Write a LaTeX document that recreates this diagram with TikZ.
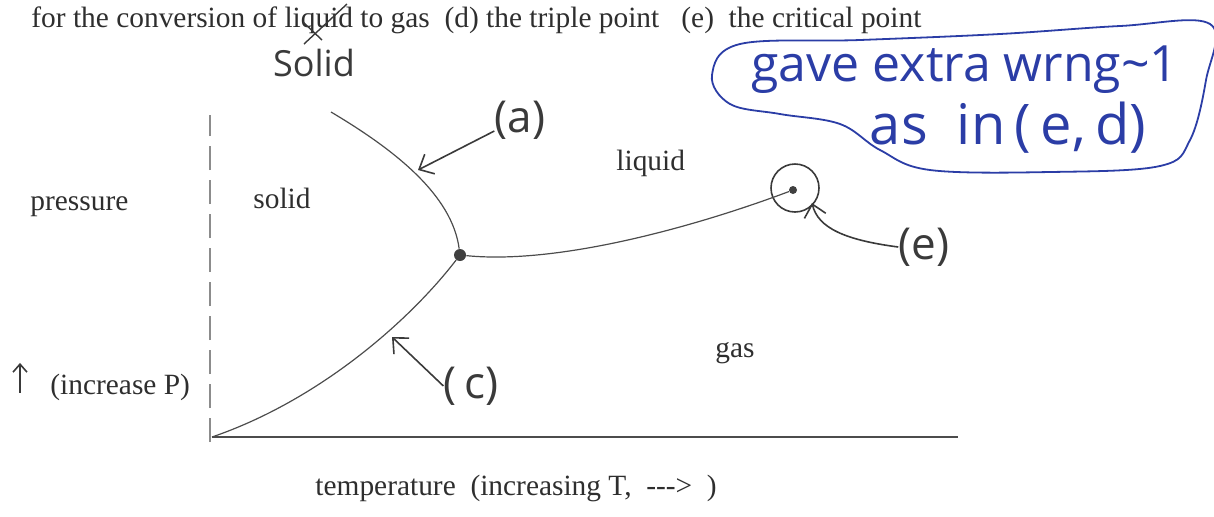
\documentclass[tikz,border=0pt]{standalone}
\usepackage{fontspec}
\setmainfont{Liberation Serif}
\newfontfamily\handfont{Open Sans}
\usetikzlibrary{arrows.meta,positioning,calc}
\definecolor{inkblue}{HTML}{2B3DA6}
\definecolor{pencil}{HTML}{3A3A3A}
\definecolor{printgray}{HTML}{2E2E2E}

\begin{document}
\begin{tikzpicture}[x=0.5pt,y=-0.5pt,
  print/.style={font=\fontsize{14.7}{17}\selectfont,text=printgray,inner sep=0pt,anchor=base west},
  hand/.style={font=\handfont\fontsize{22}{24}\selectfont,text=pencil,inner sep=0pt},
  bluehand/.style={font=\handfont\fontsize{25}{27}\selectfont,text=inkblue,inner sep=0pt},
  handarrow/.style={draw=pencil,line width=0.8pt,-{Straight Barb[length=6pt,width=11pt]}},
  curve/.style={draw=black!70,line width=0.6pt},
  dot/.style={circle,fill=black!75,inner sep=0pt,minimum size=5pt}]
\useasboundingbox (0,0) rectangle (1214,516);
% printed question text
\node[print] (question) at (31,27) {for the conversion of liquid to gas\ \ (d) the triple point\ \ \ (e)\ \ the critical point};
\draw[pencil,line width=0.7pt] (304,44)--(347,4); \draw[pencil,line width=0.7pt] (303,22)--(322,40);
\node[hand,font=\handfont\fontsize{18}{20}\selectfont] (fix) at (314,63) {Solid};
% grader's note
\draw[inkblue,line width=0.9pt] plot[smooth cycle,tension=0.6] coordinates {(740,44) (860,40) (1000,34) (1120,26) (1210,24) (1206,80) (1190,140) (1160,166) (1050,172) (930,170) (880,150) (840,124) (780,114) (730,104) (712,75)};
\node[bluehand] (note1) at (965,70) {gave extra wrng\textasciitilde1};
\node[bluehand,font=\handfont\fontsize{28}{30}\selectfont] (note2) at (1008,128) {as\ \ in\,(\,e,\,d)};
% axes
\coordinate (org) at (212,437); \coordinate (tend) at (958,437); \coordinate (ptop) at (210,115); \coordinate (pbot) at (210,442);
\draw[black!70,line width=0.8pt] (org)--(tend);
\draw[black!45,line width=0.6pt,dash pattern=on 12pt off 5pt] (pbot)--(ptop);
% phase boundaries
\node[dot,minimum size=6pt] (tp) at (460,255) {};
\node[dot,minimum size=4pt] (cp) at (793,190) {};
\node[draw=pencil,circle,line width=0.8pt,minimum size=24pt] (ring) at (795,188) {};
\coordinate (ftop) at (331,112);
\draw[curve] (ftop) .. controls (395,150) and (452,195) .. (tp);
\draw[curve] (org) .. controls (320,400) and (410,320) .. (tp);
\draw[curve] (tp) .. controls (560,265) and (700,225) .. (cp);
% region and axis labels
\node[print] (pres) at (30,210) {pressure};
\node[print] (sol) at (253,208) {solid};
\node[print] (liq) at (616,170) {liquid};
\node[print] (gas) at (715,357) {gas};
\node[print] (incp) at (50,394) {(increase P)};
\draw[handarrow,-{Straight Barb[length=4pt,width=7pt]}] ([xshift=-15pt,yshift=-3pt]incp.west)--++(0,-30);
\node[print] (temp) at (315,495) {temperature\ \ (increasing T,\ \ -{}-{}->\ \ )};
% handwritten answers
\node[hand] (la) at (520,120) {(a)};
\node[hand] (lc) at (471,386) {(\,c)};
\node[hand] (le) at (924,247) {(e)};
\coordinate (atip) at (418,170); \coordinate (ctip) at (392,337); \coordinate (etip) at (812,203);
\draw[handarrow] ([yshift=-5.5pt]la.west)--(atip);
\draw[handarrow] (lc.west)--(ctip);
\draw[handarrow] (le.west) .. controls (845,240) and (818,228) .. (etip);
\end{tikzpicture}
\end{document}
